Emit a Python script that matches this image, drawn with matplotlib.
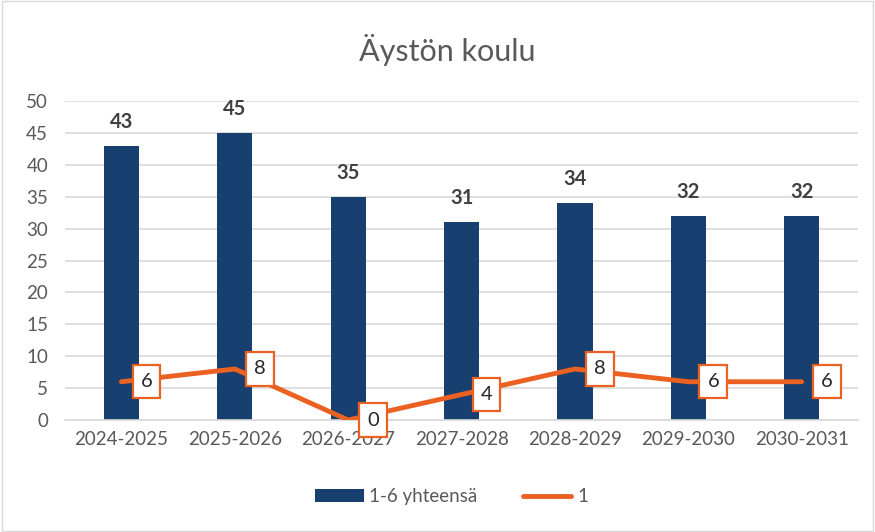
import matplotlib
matplotlib.use("Agg")
import matplotlib.pyplot as plt
import numpy as np

categories = ["2024-2025", "2025-2026", "2026-2027", "2027-2028", "2028-2029", "2029-2030", "2030-2031"]
total_1_6 = [43, 45, 35, 31, 34, 32, 32]
grade_1 = [6, 8, 0, 4, 8, 6, 6]
yticks = [0, 5, 10, 15, 20, 25, 30, 35, 40, 45, 50]

plt.rcParams['font.family'] = ['Lato', 'DejaVu Sans']
gray = "#595959"
bar_color = "#173F6F"
line_color = "#EB6121"

fig = plt.figure(figsize=(8.75, 5.32), dpi=100)
ax = fig.add_axes([0.074, 0.2105, 0.907, 0.5995])
x = np.arange(len(categories))
bars = ax.bar(x, total_1_6, width=0.31, color=bar_color, label="1-6 yhteensä", zorder=2)
line, = ax.plot(x, grade_1, color=line_color, lw=3.5, solid_capstyle='round', label="1", zorder=3)

for xi, v in zip(x, total_1_6):
    ax.annotate(str(v), (xi, v), xytext=(0, 10), textcoords="offset points",
                ha="center", va="bottom", fontsize=14.5, fontweight="bold", color="#404040")
for xi, v in zip(x, grade_1):
    ax.annotate(str(v), (xi, v), xytext=(18, 0), textcoords="offset points",
                ha="center", va="center", fontsize=14.5, color="#262626", zorder=5,
                bbox=dict(boxstyle="square,pad=0.4", fc="white", ec=line_color, lw=1.6))

ax.set_xlim(-0.5, len(categories) - 0.5)
ax.set_ylim(0, 50)
ax.set_yticks(yticks)
ax.set_xticks(x)
ax.set_xticklabels(categories)
ax.grid(axis="y", color="#D9D9D9", lw=1.2, zorder=0)
ax.set_axisbelow(True)
for s in ["top", "right", "left"]:
    ax.spines[s].set_visible(False)
ax.spines["bottom"].set_color("#D9D9D9")
ax.spines["bottom"].set_linewidth(1.2)
ax.tick_params(axis="both", length=0, labelsize=13.5, colors=gray, pad=8)
ax.tick_params(axis="y", pad=12)

fig.text(0.511, 0.906, "Äystön koulu", ha="center", va="center", fontsize=22, color=gray)
leg = fig.legend([bars, line], ["1-6 yhteensä", "1"], loc="center", bbox_to_anchor=(0.516, 0.066),
                 ncol=2, frameon=False, fontsize=13.5, labelcolor=gray, handlelength=2.6,
                 columnspacing=2.4, handletextpad=0.3)

border = plt.Rectangle((0.002, 0.002), 0.996, 0.996, transform=fig.transFigure,
                       fill=False, ec="#D9D9D9", lw=1)
fig.patches.append(border)
fig.savefig("out.png", dpi=100)
